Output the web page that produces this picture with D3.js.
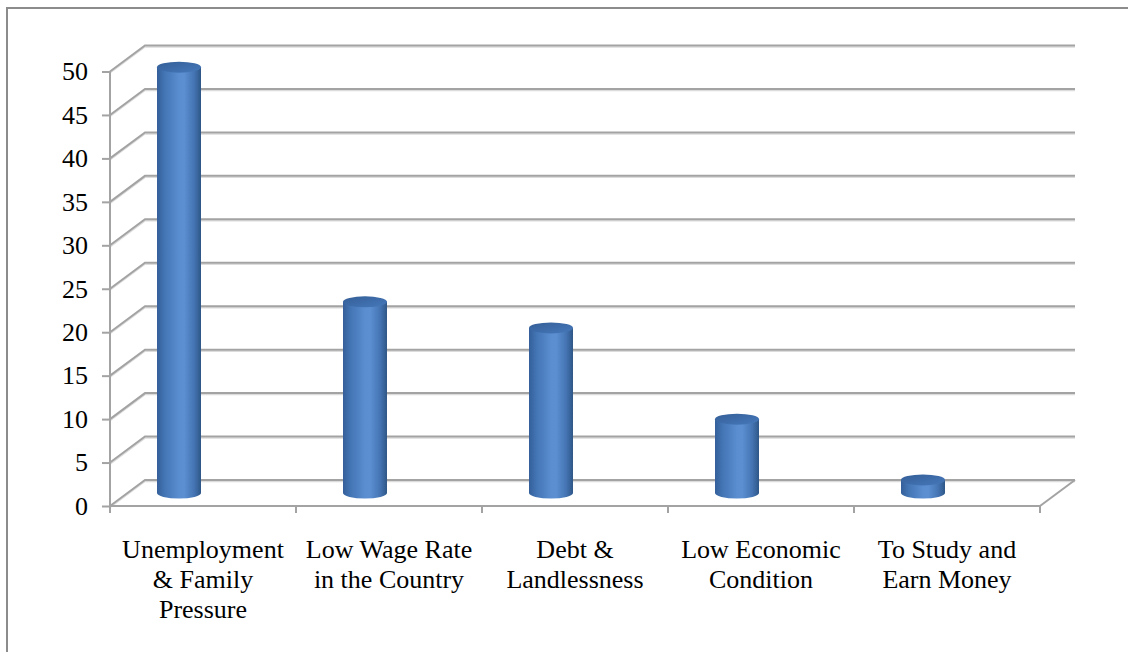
<!DOCTYPE html>
<html>
<head>
<meta charset="utf-8">
<script src="https://cdn.jsdelivr.net/npm/d3@7"></script>
<style>
  html, body { margin: 0; padding: 0; background: #fff; }
  svg { display: block; }
</style>
</head>
<body>
<svg id="chart" width="1128" height="652"></svg>
<script>
// Reasons for migration (share of respondents, %)
const categories = [
  "Unemployment\n& Family\nPressure",
  "Low Wage Rate\nin the Country",
  "Debt &\nLandlessness",
  "Low Economic\nCondition",
  "To Study and\nEarn Money"
];
const values = [49, 22, 19, 8.5, 1.5];
const yTicks = [0, 5, 10, 15, 20, 25, 30, 35, 40, 45, 50];

(function () {
  const svg = d3.select("#chart");
  const W = 1128, H = 652;
  const serif = "'Liberation Serif', 'Times New Roman', serif";

  // Plot frame (front plane) and oblique depth offset of the 3D box
  const plotLeft = 110, plotRight = 1040, plotBottom = 506, plotTop = 71.5;
  const depthX = 35, depthY = -26;
  const gridColor = "#a3a3a3";

  const x = d3.scaleBand().domain(categories).range([plotLeft, plotRight]).paddingInner(0).paddingOuter(0);
  const y = d3.scaleLinear().domain([0, 50]).range([plotBottom, plotTop]);

  // Outer chart border
  svg.append("path")
    .attr("d", `M7,${H + 2} L7,8 L${W + 2},8`)
    .attr("fill", "none").attr("stroke", "#8c8c8c").attr("stroke-width", 2);

  // Defs: cylinder gradients
  const defs = svg.append("defs");
  const grad = defs.append("linearGradient").attr("id", "cyl").attr("x1", "0").attr("x2", "1").attr("y1", "0").attr("y2", "0");
  [[0, "#34609a"], [0.18, "#4475b5"], [0.5, "#5a8ed0"], [0.62, "#5b8fd1"], [0.85, "#4473b2"], [1, "#2e5787"]]
    .forEach(([o, c]) => grad.append("stop").attr("offset", o).attr("stop-color", c));
  const capGrad = defs.append("linearGradient").attr("id", "cap").attr("x1", "0").attr("x2", "1").attr("y1", "0").attr("y2", "1");
  [[0, "#345f96"], [0.6, "#3f6ead"], [1, "#4778b8"]]
    .forEach(([o, c]) => capGrad.append("stop").attr("offset", o).attr("stop-color", c));
  defs.append("filter").attr("id", "soft").append("feGaussianBlur").attr("stdDeviation", 0.5);

  const grid = svg.append("g");
  // Back wall gridlines + side wall diagonals, with a faint shadow line under each
  yTicks.forEach(t => {
    const yy = y(t);
    const backY = yy + depthY;
    grid.append("path")
      .attr("d", `M${plotLeft},${yy + 1.5} L${plotLeft + depthX},${backY + 1.5} L${plotRight + depthX},${backY + 1.5}`)
      .attr("fill", "none").attr("stroke", "#dcdcdc").attr("stroke-width", 1.5);
    grid.append("path")
      .attr("d", `M${plotLeft},${yy} L${plotLeft + depthX},${backY} L${plotRight + depthX},${backY}`)
      .attr("fill", "none").attr("stroke", gridColor).attr("stroke-width", 2);
  });
  // Floor right edge
  grid.append("line")
    .attr("x1", plotRight).attr("y1", plotBottom).attr("x2", plotRight + depthX).attr("y2", plotBottom + depthY)
    .attr("stroke", gridColor).attr("stroke-width", 2);

  // Value axis
  const yAxis = d3.axisLeft(y).tickValues(yTicks).tickSize(8).tickPadding(14).tickFormat(d3.format("d"));
  const gy = svg.append("g").attr("transform", `translate(${plotLeft},0)`).call(yAxis)
    .attr("font-family", serif).attr("font-size", 26);
  gy.select(".domain").attr("stroke", gridColor).attr("stroke-width", 2).attr("d", `M0,${y(50)}V${y(0)}`);
  gy.selectAll(".tick line").attr("stroke", gridColor).attr("stroke-width", 2);
  gy.selectAll(".tick text").attr("fill", "#000").attr("font-family", serif).attr("font-size", 26);

  // Category axis (front floor edge)
  const gx = svg.append("g").attr("transform", `translate(0,${plotBottom})`);
  gx.append("line").attr("x1", plotLeft).attr("x2", plotRight).attr("y1", 0).attr("y2", 0)
    .attr("stroke", gridColor).attr("stroke-width", 2);
  const boundaries = categories.map(c => x(c)).concat([x(categories[categories.length - 1]) + x.bandwidth()]);
  gx.selectAll("line.cat").data(boundaries).join("line")
    .attr("class", "cat")
    .attr("x1", d => d).attr("x2", d => d).attr("y1", 0).attr("y2", 7)
    .attr("stroke", gridColor).attr("stroke-width", 2);

  // Category labels
  const labels = svg.append("g").attr("font-family", serif).attr("font-size", 26).attr("fill", "#000");
  categories.forEach(c => {
    const cx = x(c) + x.bandwidth() / 2;
    const t = labels.append("text").attr("text-anchor", "middle").attr("font-family", serif);
    c.split("\n").forEach((line, i) => {
      t.append("tspan").attr("x", cx).attr("y", 558 + i * 30).text(line);
    });
  });

  // Cylinders, set half-way into the box depth
  const rx = 22, ry = 5.5;
  const barShiftX = -24, barShiftY = -13;
  const bars = svg.append("g").attr("filter", "url(#soft)");
  categories.forEach((c, i) => {
    const cx = x(c) + x.bandwidth() / 2 + barShiftX;
    const yb = y(0) + barShiftY;
    const yt = y(values[i]) + barShiftY;
    const g = bars.append("g");
    g.append("path")
      .attr("d", `M${cx - rx},${yt} L${cx - rx},${yb} A${rx},${ry} 0 0 0 ${cx + rx},${yb} L${cx + rx},${yt} Z`)
      .attr("fill", "url(#cyl)");
    g.append("ellipse")
      .attr("cx", cx).attr("cy", yt).attr("rx", rx).attr("ry", ry)
      .attr("fill", "url(#cap)");
  });
})();
</script>
</body>
</html>
